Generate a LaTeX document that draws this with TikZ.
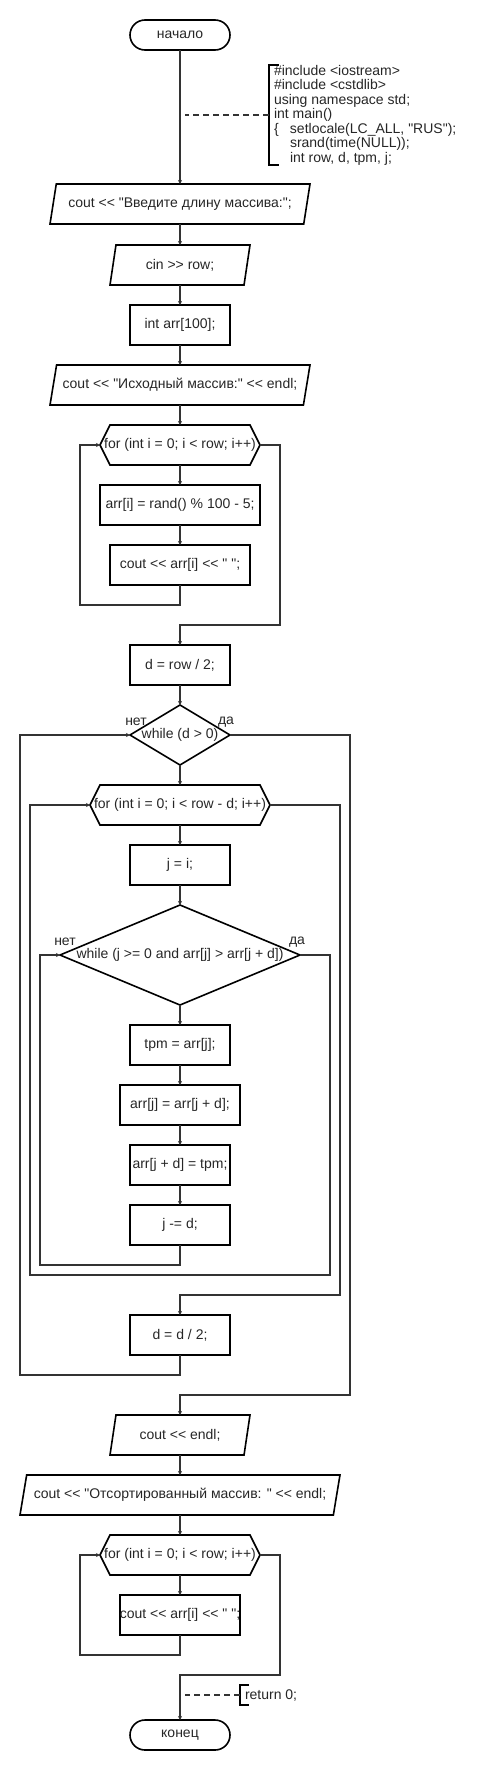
\documentclass[tikz,border=0pt]{standalone}
\usepackage{fontspec}
\newfontfamily\lsf{Liberation Sans}
\usepackage{tikz}
\usetikzlibrary{arrows.meta,positioning,shapes.geometric,shapes.symbols}
\definecolor{linegray}{HTML}{333333}
\newcommand{\fixw}[1]{\makebox[0pt]{#1}}

\tikzset{
  base/.style={draw=black, line width=1.6pt, inner sep=0pt, outer sep=0pt,
    font=\lsf\fontsize{14}{16}\selectfont, text=black!85},
  term/.style={base, rectangle, rounded corners=15pt, minimum width=100pt, minimum height=30pt},
  proc/.style={base, rectangle, minimum width=#1, minimum height=40pt},
  io/.style={base, trapezium, trapezium left angle=63.43, trapezium right angle=116.57,
    trapezium stretches body, minimum width=#1, minimum height=40pt},
  forbox/.style={base, signal, signal to=west and east, signal pointer angle=126.87,
    minimum width=#1, minimum height=40pt},
  cond/.style 2 args={base, diamond, minimum width=#1, minimum height=#2},
  flow/.style={draw=linegray, line width=1.2pt, ->},
  note/.style={font=\lsf\fontsize{14}{14.5}\selectfont, text=black!85, align=left,
    inner xsep=5pt, inner ysep=0pt, outer sep=0pt, anchor=west},
  bracket/.style={draw=black, line width=1.6pt},
  link/.style={draw=linegray, line width=1.2pt, dash pattern=on 6pt off 4pt},
  lbl/.style={font=\lsf\fontsize{14}{16}\selectfont, text=black!85, inner sep=0pt},
}

\begin{document}
\begin{tikzpicture}[>={Stealth[length=4pt,width=4pt]}, x=1pt, y=-1pt]
    \useasboundingbox (0,0) rectangle (490,1770);

    \node[term] (start) at (180,35) {начало};
    \node[io=260pt] (in1) at (180,204) {\fixw{cout << "Введите длину массива:";}};
    \node[io=140pt] (in2) at (180,265) {\fixw{cin >> row;}};
    \node[proc=100pt] (arr) at (180,325) {\fixw{int arr[100];}};
    \node[io=260pt] (out1) at (180,385) {\fixw{cout << "Исходный массив:" << endl;}};
    \node[forbox=160pt] (for1) at (180,445) {\fixw{for (int i = 0; i < row; i++)}};
    \node[proc=160pt] (fill) at (180,505) {\fixw{arr[i] = rand() \% 100 - 5;}};
    \node[proc=140pt] (prt1) at (180,565) {\fixw{cout << arr[i] << " ";}};
    \node[proc=100pt] (d1) at (180,665) {\fixw{d = row / 2;}};
    \node[cond={100pt}{60pt}] (w1) at (180,735) {\fixw{while (d > 0)}};
    \node[forbox=180pt] (for2) at (180,805) {\fixw{for (int i = 0; i < row - d; i++)}};
    \node[proc=100pt] (ji) at (180,865) {\fixw{j = i;}};
    \node[cond={240pt}{100pt}] (w2) at (180,955) {\fixw{while (j >= 0 and arr[j] > arr[j + d])}};
    \node[proc=100pt] (t1) at (180,1045) {\fixw{tpm = arr[j];}};
    \node[proc=120pt] (t2) at (180,1105) {\fixw{arr[j] = arr[j + d];}};
    \node[proc=100pt] (t3) at (180,1165) {\fixw{arr[j + d] = tpm;}};
    \node[proc=100pt] (t4) at (180,1225) {\fixw{j -= d;}};
    \node[proc=100pt] (d2) at (180,1335) {\fixw{d = d / 2;}};
    \node[io=140pt] (out2) at (180,1435) {\fixw{cout << endl;}};
    \node[io=320pt] (out3) at (180,1495) {\fixw{cout << "Отсортированный массив: " << endl;}};
    \node[forbox=160pt] (for3) at (180,1555) {\fixw{for (int i = 0; i < row; i++)}};
    \node[proc=120pt] (prt2) at (180,1615) {\fixw{cout << arr[i] << " ";}};
    \node[term] (end) at (180,1735) {конец};

    \node[lbl] (no1) at (136,722) {нет};
    \node[lbl] (yes1) at (226,722) {да};
    \node[lbl] (no2) at (65,942) {нет};
    \node[lbl] (yes2) at (297,942) {да};

    \node[note] (note1) at (269,115) {\#include <iostream>\\
        \#include <cstdlib>\\
        using namespace std;\\
        int main()\\
        \makebox[16pt][l]{\{}setlocale(LC\_ALL, "RUS");\\
        \hspace*{16pt}srand(time(NULL));\\
        \hspace*{16pt}int row, d, tpm, j;};
    \node[note, minimum height=20pt] (note2) at (240,1695) {return 0;};

    \draw[flow] (start) -- (in1);
    \draw[flow] (in1) -- (in2);
    \draw[flow] (in2) -- (arr);
    \draw[flow] (arr) -- (out1);
    \draw[flow] (out1) -- (for1);
    \draw[flow] (for1) -- (fill);
    \draw[flow] (fill) -- (prt1);
    \draw[flow] (prt1.south) -- ++(0,20) -| ([xshift=-20pt]for1.west) -- (for1.west);
    \draw[flow] (for1.east) -- ++(20,0) |- ([yshift=20pt]d1.north) -- (d1.north);
    \draw[flow] (d1) -- (w1);
    \draw[flow] (w1) -- (for2);
    \draw[flow] (for2) -- (ji);
    \draw[flow] (ji) -- (w2);
    \draw[flow] (w2) -- (t1);
    \draw[flow] (t1) -- (t2);
    \draw[flow] (t2) -- (t3);
    \draw[flow] (t3) -- (t4);
    \draw[flow] (t4.south) -- ++(0,20) -| ([xshift=-20pt]w2.west) -- (w2.west);
    \draw[flow] (w2.east) -- ++(30,0) -- ++(0,320) -| ([xshift=-60pt]for2.west) -- (for2.west);
    \draw[flow] (for2.east) -- ++(70,0) |- ([yshift=20pt]d2.north) -- (d2.north);
    \draw[flow] (d2.south) -- ++(0,20) -| ([xshift=-110pt]w1.west) -- (w1.west);
    \draw[flow] (w1.east) -- ++(120,0) |- ([yshift=20pt]out2.north) -- (out2.north);
    \draw[flow] (out2) -- (out3);
    \draw[flow] (out3) -- (for3);
    \draw[flow] (for3) -- (prt2);
    \draw[flow] (prt2.south) -- ++(0,20) -| ([xshift=-20pt]for3.west) -- (for3.west);
    \draw[flow] (for3.east) -- ++(20,0) |- ([yshift=45pt]end.north) -- (end.north);

    \draw[bracket] ([xshift=10pt]note1.north west) -- (note1.north west) -- (note1.south west) -- ([xshift=10pt]note1.south west);
    \draw[link] (note1.west) -- ++(-84,0);
    \draw[bracket] ([xshift=9pt]note2.north west) -- (note2.north west) -- (note2.south west) -- ([xshift=9pt]note2.south west);
    \draw[link] (note2.west) -- ++(-55,0);
\end{tikzpicture}
\end{document}
